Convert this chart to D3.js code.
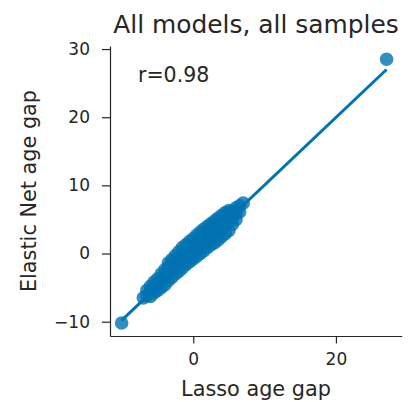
<!DOCTYPE html>
<html>
<head>
	<meta charset="UTF-8">
	<title>All models, all samples</title>
	<script src="https://cdn.jsdelivr.net/npm/d3@7"></script>
	<style>
		body { margin: 0; background: #fff; }
		text { font-family: "DejaVu Sans", sans-serif; fill: #262626; }
	</style>
</head>
<body>
	<script type="text/javascript">
		// data (lasso gap vs elastic net gap)
		var lassoGap = [
			-10.04, 27.1,
			-7.0,
			-6.5, -6.5,
			-6.0, -6.0, -6.0,
			-5.5, -5.5, -5.5,
			-5.0, -5.0, -5.0,
			-4.5, -4.5, -4.5,
			-4.0, -4.0, -4.0,
			-3.5, -3.5, -3.5, -3.5,
			-3.0, -3.0, -3.0, -3.0,
			-2.5, -2.5, -2.5, -2.5,
			-2.0, -2.0, -2.0, -2.0,
			-1.5, -1.5, -1.5, -1.5,
			-1.0, -1.0, -1.0, -1.0,
			-0.5, -0.5, -0.5, -0.5,
			0.0, 0.0, 0.0, 0.0,
			0.5, 0.5, 0.5, 0.5,
			1.0, 1.0, 1.0, 1.0,
			1.5, 1.5, 1.5, 1.5,
			2.0, 2.0, 2.0, 2.0,
			2.5, 2.5, 2.5, 2.5,
			3.0, 3.0, 3.0, 3.0,
			3.5, 3.5, 3.5, 3.5,
			4.0, 4.0, 4.0, 4.0,
			4.5, 4.5, 4.5, 4.5,
			5.0, 5.0, 5.0, 5.0,
			5.5, 5.5, 5.5,
			6.0, 6.0, 6.0,
			6.5, 6.5,
			7.0
		];
		var enetGap = [
			-10.2, 28.5,
			-6.5,
			-6.2, -5.4,
			-6.3, -5.5, -4.8,
			-5.8, -4.9, -4.2,
			-5.4, -4.5, -3.7,
			-5.0, -4.0, -3.0,
			-4.6, -3.5, -2.4,
			-4.0, -3.0, -2.0, -1.4,
			-3.5, -2.5, -1.5, -0.9,
			-3.0, -2.0, -1.0, -0.3,
			-2.6, -1.6, -0.6, 0.3,
			-2.1, -1.1, -0.1, 0.9,
			-1.6, -0.6, 0.4, 1.3,
			-1.2, -0.1, 0.9, 1.8,
			-0.8, 0.3, 1.3, 2.2,
			-0.4, 0.7, 1.7, 2.7,
			0.0, 1.1, 2.2, 3.2,
			0.4, 1.5, 2.6, 3.6,
			0.9, 2.0, 3.1, 4.0,
			1.3, 2.5, 3.6, 4.4,
			1.6, 2.9, 4.1, 4.8,
			2.0, 3.3, 4.5, 5.2,
			2.5, 3.8, 5.0, 5.6,
			2.9, 4.2, 5.4, 6.0,
			3.4, 4.7, 5.8, 6.3,
			4.3, 5.3, 6.2,
			5.0, 5.9, 6.7,
			6.1, 7.0,
			7.4
		];
		// fitted line as seen in the picture
		var regSlope = 0.991;
		var regIntercept = 0.15;
		var xTicks = [0, 20];
		var yTicks = [-10, 0, 10, 20, 30];

		var svg = d3.select("body")
					.append("svg")
					.attr("width", 412)
					.attr("height", 402);

		var x = d3.scaleLinear().domain([-11.67, 29.22]).range([110, 401.7]);
		var y = d3.scaleLinear().domain([-12.1, 30.45]).range([336, 46]);

		var points = lassoGap.map(function (d, i) { return [d, enetGap[i]]; });

		// scatter
		svg.append("g")
			.selectAll("circle")
			.data(points)
			.enter()
			.append("circle")
			.attr("cx", function (d) { return x(d[0]); })
			.attr("cy", function (d) { return y(d[1]); })
			.attr("r", 6.8)
			.attr("fill", "#0173b2")
			.attr("fill-opacity", 0.8);

		// regression line over the data range
		var xExt = d3.extent(lassoGap);
		svg.append("line")
			.attr("x1", x(xExt[0]))
			.attr("y1", y(regSlope * xExt[0] + regIntercept))
			.attr("x2", x(xExt[1]))
			.attr("y2", y(regSlope * xExt[1] + regIntercept))
			.attr("stroke", "#0173b2")
			.attr("stroke-width", 3);

		// axes
		var xAxis = svg.append("g")
			.attr("transform", "translate(0,336)")
			.call(d3.axisBottom(x).tickValues(xTicks).tickSize(7.5).tickPadding(9).tickSizeOuter(0));
		var yAxis = svg.append("g")
			.attr("transform", "translate(110,0)")
			.call(d3.axisLeft(y).tickValues(yTicks).tickSize(8).tickPadding(12).tickSizeOuter(0));

		[xAxis, yAxis].forEach(function (g) {
			g.select(".domain").attr("stroke", "#262626").attr("stroke-width", 1.2);
			g.selectAll(".tick line").attr("stroke", "#262626").attr("stroke-width", 1.2);
			g.selectAll(".tick text")
				.style("font-family", "DejaVu Sans")
				.style("font-size", "17px")
				.attr("fill", "#262626");
		});
		yAxis.selectAll(".tick text").text(function (d) { return d < 0 ? "\u2212" + Math.abs(d) : d; });

		// texts
		svg.append("text")
			.attr("x", 256)
			.attr("y", 33.3)
			.attr("text-anchor", "middle")
			.style("font-size", "24.9px")
			.text("All models, all samples");

		svg.append("text")
			.attr("x", 256)
			.attr("y", 396)
			.attr("text-anchor", "middle")
			.style("font-size", "20.8px")
			.text("Lasso age gap");

		svg.append("text")
			.attr("transform", "translate(36,191) rotate(-90)")
			.attr("text-anchor", "middle")
			.style("font-size", "20.8px")
			.text("Elastic Net age gap");

		svg.append("text")
			.attr("x", 138)
			.attr("y", 81.7)
			.style("font-size", "20.5px")
			.text("r=0.98");
	</script>
</body>
</html>
